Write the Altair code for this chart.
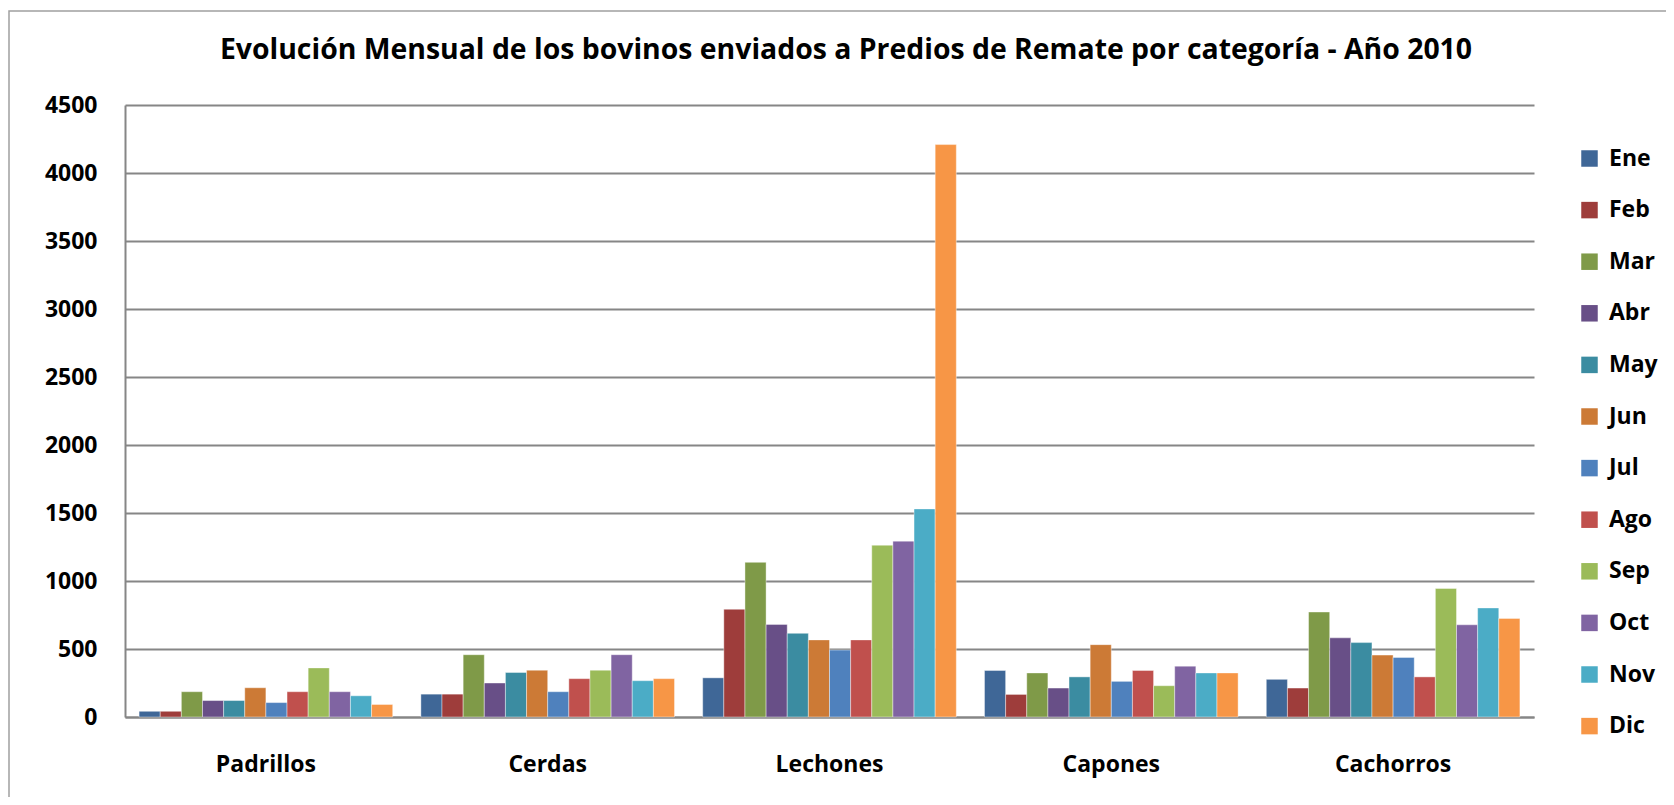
import altair as alt
import pandas as pd

categories = ["Padrillos", "Cerdas", "Lechones", "Capones", "Cachorros"]
months = ["Ene", "Feb", "Mar", "Abr", "May", "Jun", "Jul", "Ago", "Sep", "Oct", "Nov", "Dic"]

padrillos = [42, 42, 186, 121, 121, 215, 106, 186, 361, 186, 156, 92]
cerdas = [168, 168, 458, 250, 327, 344, 186, 282, 344, 458, 267, 282]
lechones = [288, 792, 1137, 681, 615, 567, 492, 567, 1263, 1293, 1530, 4209]
capones = [342, 166, 324, 213, 295, 532, 262, 342, 230, 374, 324, 324]
cachorros = [277, 213, 772, 582, 547, 455, 438, 295, 945, 678, 802, 725]

colors = ["#3F6797", "#9E3D3B", "#7F9A48", "#684F87", "#3B8CA1", "#CC7A36",
          "#4F81BD", "#C0504D", "#9BBB59", "#8064A2", "#4BACC6", "#F79646"]

y_ticks = [0, 500, 1000, 1500, 2000, 2500, 3000, 3500, 4000, 4500]

title_text = "Evolución Mensual de los bovinos enviados a Predios de Remate por categoría - Año 2010"

rows = []
for c, vals in zip(categories, [padrillos, cerdas, lechones, capones, cachorros]):
    for m, v in zip(months, vals):
        rows.append({"Categoria": c, "Mes": m, "Valor": v})
df = pd.DataFrame(rows)

FONT = "Open Sans"
GRID = "#868686"

bars = alt.Chart(df).mark_bar(stroke="white", strokeWidth=0.8, strokeOpacity=0.5).encode(
    x=alt.X("Categoria:N", sort=categories,
            scale=alt.Scale(paddingInner=0.1, paddingOuter=0.05),
            axis=alt.Axis(title=None, labelAngle=0, labelFont=FONT, labelFontWeight="bold",
                          labelFontSize=23, labelColor="black", labelPadding=36, ticks=False,
                          domainColor=GRID, domainWidth=2, grid=False)),
    xOffset=alt.XOffset("Mes:N", sort=months, scale=alt.Scale(paddingInner=0, paddingOuter=0)),
    y=alt.Y("Valor:Q", scale=alt.Scale(domain=[0, 4500], nice=False),
            axis=alt.Axis(title=None, values=y_ticks, labelFont=FONT, labelFontWeight="bold",
                          labelFontSize=23, labelColor="black", labelPadding=28, ticks=False,
                          domainColor=GRID, domainWidth=2, grid=True, gridColor=GRID,
                          gridWidth=2, format="d")),
    color=alt.Color("Mes:N", sort=months, scale=alt.Scale(domain=months, range=colors),
                    legend=alt.Legend(title=None, orient="none", legendX=1453, legendY=42,
                                      symbolType="square", symbolSize=272, symbolStrokeWidth=0,
                                      symbolOpacity=1, labelFont=FONT, labelFontSize=23,
                                      labelFontWeight="bold", labelColor="black", labelOffset=8,
                                      rowPadding=27.6, padding=0)),
)

frame_df = pd.DataFrame({"t": [title_text]})
frame = alt.Chart(frame_df).mark_rect(filled=False, stroke="#A0A0A0", strokeWidth=1.5).encode(
    x=alt.value(-116), x2=alt.value(1700), y=alt.value(-94), y2=alt.value(800)
)

title = alt.Chart(frame_df).mark_text(
    font=FONT, fontSize=28.4, fontWeight="bold", color="black", align="center",
    baseline="alphabetic"
).encode(text="t:N", x=alt.value(721), y=alt.value(-46))

chart = alt.layer(frame, title, bars).properties(
    width=1409,
    height=612,
    padding={"left": 117, "top": 97, "right": 132, "bottom": 80},
    autosize=alt.AutoSizeParams(type="none"),
).configure_view(stroke=None)

chart.save("out.html", embed_options={"renderer": "svg", "actions": False})
